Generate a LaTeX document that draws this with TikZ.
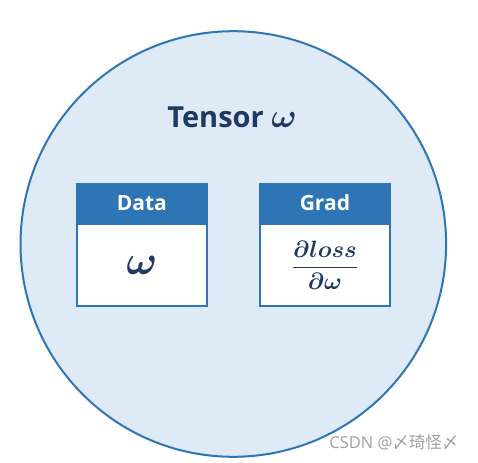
\documentclass[tikz,border=0pt]{standalone}
\usepackage{amsmath,amssymb}
\usepackage{fontspec}
\setmainfont{Open Sans}
\newfontfamily\cjk{Noto Sans CJK SC}
\usetikzlibrary{positioning}
\definecolor{tblue}{HTML}{2E75B6}
\definecolor{tfill}{HTML}{DEEBF7}
\definecolor{tnavy}{HTML}{1F3864}
\tikzset{
  hdr/.style={draw=tblue,fill=tblue,line width=1.5pt,minimum width=130pt,minimum height=39pt,
    inner sep=0pt,text=white,font=\fontsize{21}{21}\selectfont\bfseries},
  cell/.style={draw=tblue,fill=white,line width=1.5pt,minimum width=130pt,minimum height=82pt,
    inner sep=0pt,text=tnavy},
}

\begin{document}
\begin{tikzpicture}[x=1pt,y=-1pt]
  \useasboundingbox (0,0) rectangle (478,462);
  % tensor
  \draw[tblue,fill=tfill,line width=2pt] (233.3,244) circle[radius=212.8];
  \node[text=tnavy,font=\fontsize{29}{29}\selectfont\bfseries] (title) at (232,117)
    {Tensor \scalebox{1.35}{$\boldsymbol{\omega}$}};
  % data
  \node[hdr] (datahead) at (141.9,203) {Data};
  \node[cell,below=0pt of datahead] (databody) {\scalebox{4.1}{$\boldsymbol{\omega}$}};
  % grad
  \node[hdr] (gradhead) at (324.9,203) {Grad};
  \node[cell,below=0pt of gradhead] (gradbody)
    {\scalebox{2.36}{$\dfrac{\boldsymbol{\partial loss}}{\boldsymbol{\partial\omega}}$}};
  % mark
  \node[text=gray!75,font=\fontsize{16.5}{16.5}\selectfont,anchor=east] (mark) at (462,442)
    {CSDN @{\cjk 〆琦怪〆}};
\end{tikzpicture}
\end{document}
